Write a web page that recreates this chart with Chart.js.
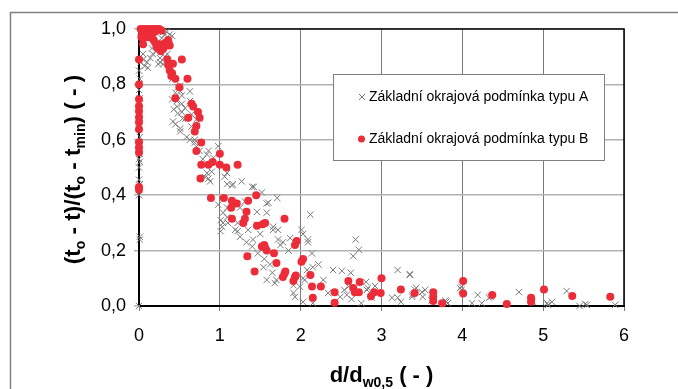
<!DOCTYPE html>
<html lang="cs">
  <head>
    <meta charset="UTF-8" />
    <title>Okrajové podmínky</title>
    <script src="https://cdn.jsdelivr.net/npm/chart.js"></script>
    <style>
      * {
        margin: 0;
        padding: 0;
        box-sizing: border-box;
      }
      body {
        background-color: #ffffff;
        width: 678px;
        height: 389px;
        overflow: hidden;
      }
    </style>
  </head>
  <body>
    <canvas id="chart" width="678" height="389"></canvas>
    <script>
      // x = d/dw0,5, y = (to - t)/(to - tmin)
      const labelA = "Základní okrajová podmínka typu A";
      const labelB = "Základní okrajová podmínka typu B";

      const xTicks = [0, 1, 2, 3, 4, 5, 6];
      const yTicks = ["0,0", "0,2", "0,4", "0,6", "0,8", "1,0"];

      // gray crosses
      const typeA = [
        [0, 0], [0.01, 0.24], [0.01, 0.25], [0, 0.4], [0.01, 0.44], [0, 0.456],
        [0, 0.5], [0.01, 0.52], [0, 0.53], [0.01, 0.55], [0, 0.58], [0.01, 0.61],
        [0, 0.64], [0.01, 0.68], [0, 0.72], [0.01, 0.75], [0, 0.78], [0.01, 0.82],
        [0, 0.85], [0.02, 0.88], [0.02, 0.99],
        [0.05, 0.91], [0.05, 0.89], [0.07, 0.866], [0.1, 0.88], [0.11, 0.86],
        [0.14, 0.895], [0.16, 0.93], [0.17, 0.91], [0.22, 0.92], [0.22, 0.95],
        [0.26, 0.895], [0.26, 0.88], [0.3, 0.873], [0.24, 0.873], [0.28, 0.967],
        [0.32, 0.98], [0.3, 0.99], [0.34, 0.99], [0.38, 0.98], [0.41, 0.975],
        [0.38, 0.945], [0.35, 0.91], [0.32, 0.9],
        [0.41, 0.82], [0.48, 0.79], [0.51, 0.795], [0.51, 0.775], [0.45, 0.77],
        [0.53, 0.76], [0.63, 0.775], [0.41, 0.746], [0.47, 0.74], [0.53, 0.73],
        [0.43, 0.71], [0.47, 0.72], [0.48, 0.695], [0.53, 0.7], [0.57, 0.714],
        [0.54, 0.677], [0.57, 0.675], [0.42, 0.666], [0.51, 0.641], [0.65, 0.692],
        [0.71, 0.674], [0.75, 0.677], [0.65, 0.648], [0.63, 0.74], [0.45, 0.656],
        [0.51, 0.63], [0.59, 0.61], [0.63, 0.6], [0.69, 0.6], [0.69, 0.59],
        [0.71, 0.575], [0.75, 0.56], [0.84, 0.547], [0.86, 0.56], [0.79, 0.53],
        [0.98, 0.577], [0.92, 0.535], [0.9, 0.485], [0.84, 0.48], [0.86, 0.46],
        [0.82, 0.465], [0.88, 0.45], [1.06, 0.467], [1.09, 0.48], [1.09, 0.44],
        [1.15, 0.435], [1.16, 0.44], [1.27, 0.45], [1.4, 0.43], [1.42, 0.43],
        [1.52, 0.41], [1.6, 0.373], [1.58, 0.37], [1.71, 0.39],
        [0.98, 0.366], [1.04, 0.337], [1.01, 0.31], [1.03, 0.286], [1.01, 0.27],
        [1.04, 0.3], [1.1, 0.3], [1.09, 0.32], [1.09, 0.355], [1.25, 0.355],
        [1.31, 0.377], [1.22, 0.3], [1.46, 0.34], [1.58, 0.337], [1.22, 0.27],
        [1.19, 0.275], [1.25, 0.25], [1.35, 0.275], [1.46, 0.293], [1.66, 0.286],
        [1.66, 0.275], [1.72, 0.275], [1.33, 0.23], [1.4, 0.215], [1.35, 0.18],
        [1.41, 0.24], [1.5, 0.26], [1.47, 0.19], [1.55, 0.17], [1.62, 0.15],
        [1.65, 0.12], [1.54, 0.14], [1.58, 0.094], [1.68, 0.083], [1.7, 0.094],
        [1.75, 0.22], [1.85, 0.2], [1.72, 0.24], [1.78, 0.23], [1.87, 0.245],
        [1.91, 0.047], [1.93, 0.033], [1.91, 0.075], [1.99, 0.07], [2.01, 0.275],
        [2.03, 0.26], [2.09, 0.24], [2.09, 0.23], [2.12, 0.33], [2.03, 0.1],
        [2.08, 0.13], [2.05, 0.094], [2.14, 0.19], [2.15, 0.14], [2.22, 0.15],
        [2.03, 0.015], [2.15, 0.01], [2.28, 0.094], [2.34, 0.047], [2.4, 0.13],
        [2.51, 0.127], [2.62, 0.12], [2.68, 0.24], [2.72, 0.203], [2.65, 0.18],
        [2.54, 0.058], [2.57, 0.04], [2.59, 0.07], [2.63, 0.025], [2.49, 0.033],
        [2.75, 0.01], [2.82, 0.058], [2.81, 0.087], [2.83, 0.065], [2.92, 0.072],
        [2.88, 0.03], [3.2, 0.13], [3.13, 0.03], [3.35, 0.115], [3.35, 0.112],
        [3.2, 0.03], [3.24, 0.015], [3.38, 0.033], [3.38, 0.04], [3.41, 0.06],
        [3.43, 0.065], [3.5, 0.05], [3.51, 0.033], [3.54, 0.058], [3.62, 0.02],
        [3.79, 0.02], [3.82, 0.01], [3.8, 0.015], [3.97, 0.065], [3.99, 0.058],
        [3.99, 0.069], [4.12, 0.01], [4.19, 0.04], [4.24, 0.01], [4.33, 0.03],
        [4.35, 0.033], [4.7, 0.05], [4.86, 0.02], [4.87, 0.015], [5.05, 0.01],
        [5.11, 0.015], [5.06, 0.004], [5.29, 0.054], [5.45, 0], [5.52, 0.007],
        [5.54, 0.004], [5.89, 0.004]
      ];

      // red dots
      const typeB = [
        [0.02, 1.0], [0.04, 0.99], [0.06, 1.0], [0.08, 0.98], [0.1, 1.0],
        [0.12, 0.99], [0.14, 1.0], [0.16, 0.98], [0.18, 1.0], [0.2, 0.99],
        [0.22, 1.0], [0.25, 1.0], [0.28, 0.995], [0.03, 0.97], [0.07, 0.97],
        [0.12, 0.97], [0.18, 0.96], [0.05, 0.945],
        [0.2, 0.95], [0.24, 0.93], [0.28, 0.945], [0.3, 0.93], [0.33, 0.95],
        [0.34, 0.94], [0.38, 0.94], [0.36, 0.96], [0.27, 0.92], [0.22, 0.935],
        [0.35, 0.89], [0.53, 0.89], [0.36, 0.87], [0.42, 0.875], [0.38, 0.85],
        [0.41, 0.84], [0.4, 0.83], [0.45, 0.82], [0.6, 0.82], [0.5, 0.79],
        [0.45, 0.75], [0.65, 0.73], [0.67, 0.72], [0.73, 0.7], [0.75, 0.68],
        [0.61, 0.68], [0.71, 0.65], [0.69, 0.63], [0.77, 0.59], [0.71, 0.56],
        [1.0, 0.55], [0.77, 0.51], [0.86, 0.51], [0.91, 0.52], [1.0, 0.51],
        [1.08, 0.5], [1.22, 0.51], [0.76, 0.46],
        [0, 0.89], [0, 0.8], [0, 0.746], [0, 0.721], [0, 0.703], [0, 0.681],
        [0, 0.663], [0, 0.638], [0, 0.591], [0, 0.572], [0, 0.554], [0, 0.43],
        [0, 0.42],
        [0.89, 0.39], [1.05, 0.39], [1.15, 0.38], [1.21, 0.37], [1.14, 0.355],
        [1.35, 0.38], [1.45, 0.4], [1.33, 0.34], [1.15, 0.315], [1.31, 0.315],
        [1.29, 0.3], [1.46, 0.29], [1.53, 0.295], [1.56, 0.3], [1.8, 0.315],
        [1.52, 0.215], [1.56, 0.21], [1.58, 0.2], [1.55, 0.22], [1.67, 0.19],
        [1.34, 0.18], [1.7, 0.155], [1.81, 0.125], [1.78, 0.105], [1.8, 0.116],
        [1.43, 0.125], [1.93, 0.22], [1.95, 0.235], [1.91, 0.09], [1.93, 0.105],
        [1.94, 0.11], [2.01, 0.16], [2.03, 0.17], [2.12, 0.112], [2.14, 0.07],
        [2.15, 0.03], [2.25, 0.07], [2.42, 0.05], [2.42, 0.012],
        [2.59, 0.09], [2.65, 0.065], [2.67, 0.05], [2.73, 0.087], [2.72, 0.05],
        [2.87, 0.035], [2.91, 0.05], [3.0, 0.1], [2.99, 0.047], [3.24, 0.06],
        [3.41, 0.047], [3.64, 0.05], [3.64, 0.033], [3.64, 0.018], [3.75, 0.01],
        [4.01, 0.09], [4.01, 0.045], [4.37, 0.04], [4.55, 0.007], [4.85, 0.03],
        [4.85, 0.015], [5.01, 0.06], [5.36, 0.036], [5.83, 0.033]
      ];

      const grayCross = "#7a7a7a";
      const redDot = "#ec2c38";
      const font = "'Liberation Sans', Arial, sans-serif";

      // text with subscripts, parts = [[text, isSub], ...]
      function drawRich(ctx, parts, cx, baseY, size, subSize) {
        const widths = parts.map(([t, sub]) => {
          ctx.font = `bold ${sub ? subSize : size}px ${font}`;
          return ctx.measureText(t).width;
        });
        let x = cx - widths.reduce((a, b) => a + b, 0) / 2;
        parts.forEach(([t, sub], i) => {
          ctx.font = `bold ${sub ? subSize : size}px ${font}`;
          ctx.fillText(t, x, baseY + (sub ? 5 : 0));
          x += widths[i];
        });
      }

      const decorations = {
        id: "decorations",
        beforeDraw(chart) {
          const ctx = chart.ctx;
          ctx.save();
          ctx.fillStyle = "#ffffff";
          ctx.fillRect(0, 0, chart.width, chart.height);
          // outer frame
          ctx.strokeStyle = "#808080";
          ctx.lineWidth = 1.5;
          ctx.strokeRect(10.5, 12.5, chart.width + 20, chart.height + 20);
          ctx.restore();
        },
        beforeDatasetsDraw(chart) {
          const { ctx, chartArea: a } = chart;
          ctx.save();
          ctx.strokeStyle = "#000000";
          ctx.lineWidth = 1.5;
          ctx.beginPath();
          ctx.moveTo(a.left, a.top);
          ctx.lineTo(a.right, a.top);
          ctx.lineTo(a.right, a.bottom);
          ctx.stroke();
          ctx.restore();
        },
        afterDraw(chart) {
          const { ctx, chartArea: a } = chart;
          ctx.save();
          ctx.fillStyle = "#000000";
          ctx.textAlign = "left";
          ctx.textBaseline = "alphabetic";

          // x title
          drawRich(ctx, [["d/d", false], ["w0,5", true], [" ( - )", false]],
            (a.left + a.right) / 2, 382, 22, 14);

          // y title
          ctx.translate(80, (a.top + a.bottom) / 2 + 2);
          ctx.rotate(-Math.PI / 2);
          drawRich(ctx, [
            ["(t", false], ["o", true], [" - t)/(t", false], ["o", true],
            [" - t", false], ["min", true], [") ( - )", false]
          ], 0, 0, 22.5, 14);
          ctx.setTransform(1, 0, 0, 1, 0, 0);

          // legend box
          const lx = 333, ly = 74, lw = 271, lh = 86;
          ctx.fillStyle = "#ffffff";
          ctx.fillRect(lx, ly, lw, lh);
          ctx.strokeStyle = "#808080";
          ctx.lineWidth = 1;
          ctx.strokeRect(lx + 0.5, ly + 0.5, lw, lh);

          const ds = chart.data.datasets;
          ctx.font = `14px ${font}`;
          ctx.textBaseline = "middle";
          ctx.fillStyle = "#000000";
          // row A: cross
          ctx.strokeStyle = ds[0].borderColor;
          ctx.beginPath();
          ctx.moveTo(359, 94); ctx.lineTo(365, 100);
          ctx.moveTo(365, 94); ctx.lineTo(359, 100);
          ctx.stroke();
          ctx.fillText(ds[0].label, 369, 97);
          // row B: dot
          ctx.fillStyle = ds[1].backgroundColor;
          ctx.beginPath();
          ctx.arc(361.5, 139, 3.5, 0, Math.PI * 2);
          ctx.fill();
          ctx.fillStyle = "#000000";
          ctx.fillText(ds[1].label, 369, 139);
          ctx.restore();
        }
      };

      new Chart(document.getElementById("chart"), {
        type: "scatter",
        data: {
          datasets: [
            {
              label: labelA,
              data: typeA.map(([x, y]) => ({ x, y })),
              pointStyle: "crossRot",
              pointRadius: 4.5,
              borderColor: grayCross,
              backgroundColor: grayCross,
              borderWidth: 1,
              order: 2,
              clip: false
            },
            {
              label: labelB,
              data: typeB.map(([x, y]) => ({ x, y })),
              pointStyle: "circle",
              pointRadius: 4,
              borderWidth: 0,
              borderColor: redDot,
              backgroundColor: redDot,
              order: 1,
              clip: false
            }
          ]
        },
        options: {
          responsive: false,
          animation: false,
          events: [],
          layout: { padding: { top: 29, right: 54, left: 0, bottom: 0 } },
          plugins: {
            legend: { display: false },
            tooltip: { enabled: false }
          },
          scales: {
            x: {
              type: "linear",
              min: 0,
              max: 6,
              afterFit: (scale) => { scale.height = 83; },
              afterBuildTicks: (scale) => {
                scale.ticks = xTicks.map((v) => ({ value: v }));
              },
              ticks: {
                padding: 14,
                color: "#000000",
                font: { family: font, size: 18 },
                callback: (v) => String(v)
              },
              grid: { color: "#7a7a7a", lineWidth: 1, tickLength: 5 },
              border: { color: "#000000", width: 2 }
            },
            y: {
              type: "linear",
              min: 0,
              max: 1,
              afterFit: (scale) => { scale.width = 139; },
              afterBuildTicks: (scale) => {
                scale.ticks = yTicks.map((t, i) => ({ value: i * 0.2 }));
              },
              ticks: {
                padding: 8,
                color: "#000000",
                font: { family: font, size: 18 },
                callback: (v, i) => yTicks[i]
              },
              grid: { color: "#b2b2b2", lineWidth: 1.5, tickLength: 5 },
              border: { color: "#000000", width: 2 }
            }
          }
        },
        plugins: [decorations]
      });
    </script>
  </body>
</html>
